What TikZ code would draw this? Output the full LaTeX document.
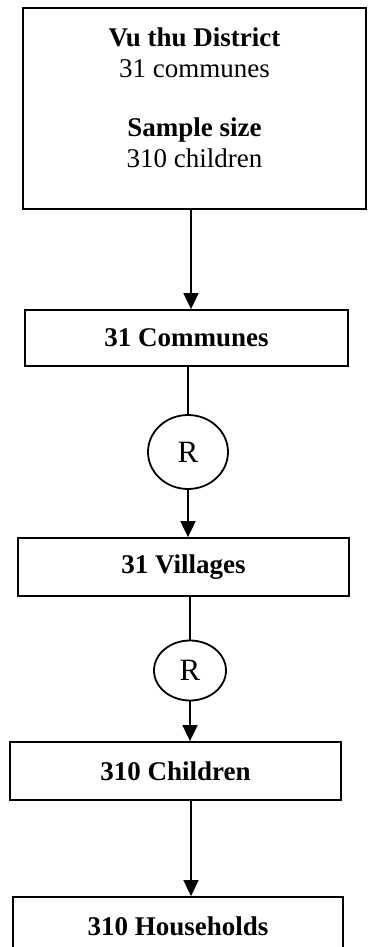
\documentclass[tikz,border=0pt]{standalone}
\usepackage{fontspec}
\setmainfont{Liberation Serif}
\usetikzlibrary{arrows.meta, shapes.geometric}

\begin{document}
\begin{tikzpicture}[x=1pt, y=-1pt, line width=1.8pt,
  every node/.style={font=\fontsize{27}{31}\selectfont},
  stage/.style={draw, rectangle, inner sep=0pt, font=\fontsize{27}{31}\selectfont\bfseries},
  pick/.style={draw, ellipse, inner sep=0pt, font=\fontsize{31}{31}\selectfont},
  flow/.style={-{Triangle[width=15pt, length=16pt]}}]
  \useasboundingbox (0,0) rectangle (367,947);

  % District and sample
  \node [draw, rectangle, inner sep=0pt, minimum width=343pt, minimum height=201pt, align=center]
    (district) at (194.5,108.5)
    {\textbf{Vu thu District}\\31 communes\\[28pt]\textbf{Sample size}\\310 children\rule[-22pt]{0pt}{1pt}};

  % Stages
  \node [stage, minimum width=323pt, minimum height=56pt] (communes) at (186.5,338) {31 Communes};
  \node [pick, minimum width=80pt, minimum height=74pt] (rone) at (188,452) {R};
  \node [stage, minimum width=331pt, minimum height=58pt] (villages) at (183.5,567) {31 Villages};
  \node [pick, minimum width=72pt, minimum height=60pt] (rtwo) at (190,670.5) {R};
  \node [stage, minimum width=331pt, minimum height=58pt] (children) at (175.5,771) {310 Children};
  \node [stage, minimum width=330pt, minimum height=58pt] (households) at (178,926) {310 Households};

  % Connectors
  \coordinate (spine) at (191,0);
  \draw [flow] (spine |- district.south) -- (spine |- communes.north);
  \draw (rone.north |- communes.south) -- (rone.north);
  \draw [flow] (rone.south) -- (rone.south |- villages.north);
  \draw (rtwo.north |- villages.south) -- (rtwo.north);
  \draw [flow] (rtwo.south) -- (rtwo.south |- children.north);
  \draw [flow] (spine |- children.south) -- (spine |- households.north);
\end{tikzpicture}
\end{document}
